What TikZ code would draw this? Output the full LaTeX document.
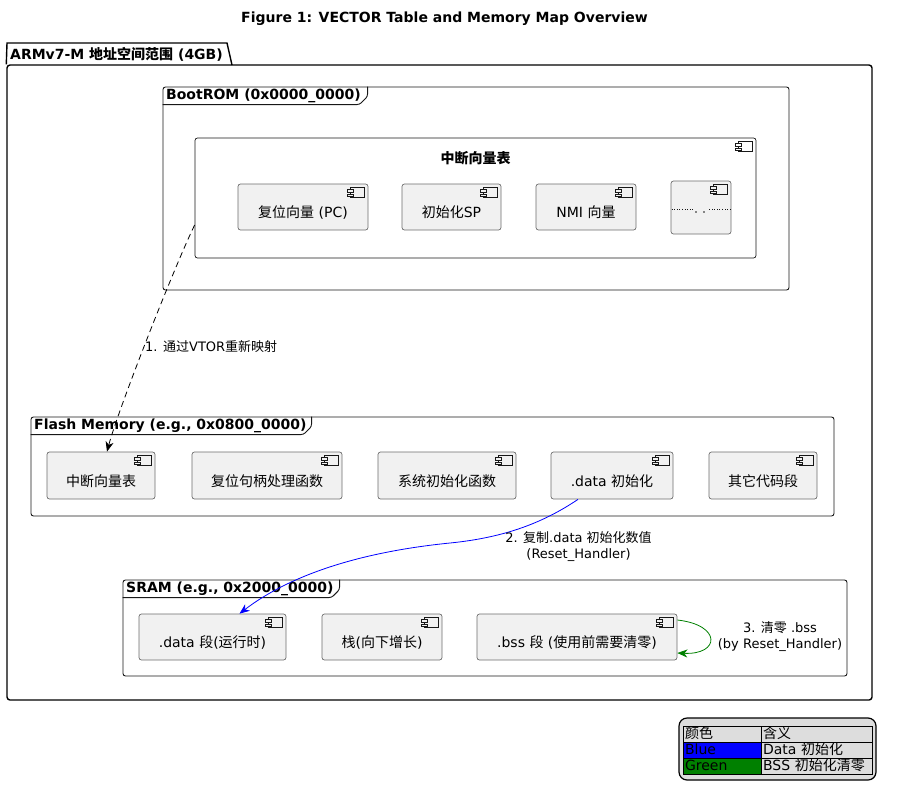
\documentclass[tikz,border=0pt]{standalone}
\usepackage{fontspec}
\setmainfont{DejaVu Sans}
\newfontfamily\cjk{Noto Sans CJK SC}
\newcommand\zh[1]{{\cjk #1}}
\usetikzlibrary{arrows.meta,calc}
\definecolor{compfill}{HTML}{F1F1F1}
\definecolor{lgfill}{HTML}{DDDDDD}
\definecolor{lblue}{HTML}{0000FF}
\definecolor{lgreen}{HTML}{008000}
\definecolor{bord}{HTML}{181818}
\definecolor{cbord}{HTML}{6E6E6E}
\newcommand\cmpicon[2][compfill]{%
  \draw[icon,fill=#1] ($(#2.north east)+(-18,4)$) rectangle ++(14,10);
  \draw[icon,fill=#1] ($(#2.north east)+(-21,6)$) rectangle ++(6,2.5);
  \draw[icon,fill=#1] ($(#2.north east)+(-21,10.5)$) rectangle ++(6,2.5);
}
\begin{document}
\begin{tikzpicture}[x=1pt,y=-1pt,
  comp/.style={draw=cbord, fill=compfill, line width=0.7pt, rounded corners=2.5pt,
    minimum height=46pt, inner sep=0pt, text height=22pt, text depth=1pt,
    font=\fontsize{14}{16}\selectfont},
  frame/.style={draw=bord, line width=0.9pt, rounded corners=2.5pt, inner sep=0pt},
  ftitle/.style={font=\bfseries\fontsize{14}{16}\selectfont, anchor=west, inner sep=0pt},
  elabel/.style={font=\fontsize{13}{16}\selectfont, align=center, inner sep=0pt},
  icon/.style={draw=bord, line width=0.5pt},
  arr/.style={-{Stealth[length=10pt,width=8pt,inset=3pt]}, line width=0.8pt},
  cell/.style={draw=black, line width=0.8pt, minimum height=16pt, inner xsep=2pt,
    inner ysep=0pt, text height=11pt, text depth=3pt, align=left,
    font=\fontsize{14}{16}\selectfont}
]
\fill[white] (0,0) rectangle (901,800);
\useasboundingbox (0,0) rectangle (901,800);

% title
\node[font=\bfseries\fontsize{14}{16}\selectfont, inner sep=0pt] (title) at (444.5,18.5)
  {Figure 1: VECTOR Table and Memory Map Overview};

% outer package
\node[draw=black, line width=1.4pt, rounded corners=3pt, minimum width=865pt,
  minimum height=635pt, inner sep=0pt] (pkg) at (439.5,382.5) {};
\draw[line width=1.4pt] (pkg.north west) -- (7,43) -- (227,43) -- (232,65);
\node[ftitle] (pkgt) at (10,54) {ARMv7-M \zh{地址空间范围} (4GB)};

% BootROM frame
\node[frame, minimum width=626pt, minimum height=203pt] (bt) at (476,188.5) {};
\draw[frame] ($(bt.north west)+(0,18)$) -- ++(197,0) -- ++(8,-8) -- ++(0,-10);
\node[ftitle] (btt) at (166,96) {BootROM (0x0000\_0000)};

% vector table component
\node[comp, draw=bord, fill=white, minimum width=561pt, minimum height=120pt, text height=0pt, text depth=0pt] (vt) at (475.5,198) {};
\cmpicon[white]{vt}
\node[font=\bfseries\fontsize{14}{16}\selectfont, inner sep=0pt] (vtt) at (475.5,158) {\zh{中断向量表}};

\node[comp, minimum width=130pt] (rv) at (303,207) {\zh{复位向量} (PC)};
\cmpicon{rv}
\node[comp, minimum width=99pt] (sp) at (451.5,207) {\zh{初始化}SP};
\cmpicon{sp}
\node[comp, minimum width=100pt] (nmi) at (586,207) {NMI \zh{向量}};
\cmpicon{nmi}
\node[comp, minimum width=60pt, minimum height=53pt, text height=0pt, text depth=0pt] (ell) at (701,207.5) {};
\cmpicon{ell}
\draw[dotted, line width=0.6pt, bord] ($(ell.west)+(1,1.5)$) -- ++(21,0);
\draw[dotted, line width=0.6pt, bord] ($(ell.east)+(-1,1.5)$) -- ++(-22,0);
\fill[bord] ($(ell.center)+(-5,4.5)$) circle (0.9);
\fill[bord] ($(ell.center)+(3,4.5)$) circle (0.9);

% Flash frame
\node[frame, minimum width=803pt, minimum height=99pt] (fl) at (432.5,466.5) {};
\draw[frame] ($(fl.north west)+(0,18)$) -- ++(273,0) -- ++(8,-8) -- ++(0,-10);
\node[ftitle] (flt) at (34,426) {Flash Memory (e.g., 0x0800\_0000)};

\node[comp, minimum width=108pt, minimum height=47pt] (fvt) at (101,475.5) {\zh{中断向量表}};
\cmpicon{fvt}
\node[comp, minimum width=150pt, minimum height=47pt] (frh) at (267,475.5) {\zh{复位句柄处理函数}};
\cmpicon{frh}
\node[comp, minimum width=138pt, minimum height=47pt] (fsi) at (447,475.5) {\zh{系统初始化函数}};
\cmpicon{fsi}
\node[comp, minimum width=122pt, minimum height=47pt] (fdi) at (612,475.5) {.data \zh{初始化}};
\cmpicon{fdi}
\node[comp, minimum width=108pt, minimum height=47pt] (foc) at (763,475.5) {\zh{其它代码段}};
\cmpicon{foc}

% SRAM frame
\node[frame, minimum width=724pt, minimum height=96pt] (sr) at (485,628) {};
\draw[frame] ($(sr.north west)+(0,18)$) -- ++(209,0) -- ++(8,-8) -- ++(0,-10);
\node[ftitle] (srt) at (126,589) {SRAM (e.g., 0x2000\_0000)};

\node[comp, minimum width=147pt] (sdd) at (212.5,637) {.data \zh{段}(\zh{运行时})};
\cmpicon{sdd}
\node[comp, minimum width=120pt] (sst) at (382,637) {\zh{栈}(\zh{向下增长})};
\cmpicon{sst}
\node[comp, minimum width=200pt] (sbs) at (577,637) {.bss \zh{段} (\zh{使用前需要清零})};
\cmpicon{sbs}

% connectors
\draw[arr, dashed, dash pattern=on 6pt off 4pt, black]
  ($(vt.west)+(0,27)$) .. controls (175,265) and (118,410) .. ($(fvt.north)+(6,0)$);
\node[elabel, anchor=west] (l1) at (145,347) {1. \zh{通过}VTOR\zh{重新映射}};

\draw[arr, lblue]
  ($(fdi.south)+(-34,0)$) .. controls (540,525) and (500,538) .. (450,543)
  .. controls (360,552) and (290,575) .. ($(sdd.north)+(27,0)$);
\node[elabel] (l2) at (578.5,547) {2. \zh{复制}.data \zh{初始化数值}\\(Reset\_Handler)};

\draw[arr, lgreen]
  ($(sbs.east)+(0,-17)$) .. controls (722,625) and (720,655) .. ($(sbs.east)+(0,16)$);
\node[elabel] (l3) at (780,637) {3. \zh{清零} .bss\\(by Reset\_Handler)};

% legend
\node[draw=black, line width=1.2pt, fill=lgfill, rounded corners=8pt,
  minimum width=197pt, minimum height=62pt, inner sep=0pt] (lg) at (777.5,749) {};
\node[cell, text width=74pt] (c11) at (722,734) {\zh{颜色}};
\node[cell, text width=107pt] (c12) at (816.5,734) {\zh{含义}};
\node[cell, text width=74pt, fill=lblue] (c21) at (722,750) {Blue};
\node[cell, text width=107pt] (c22) at (816.5,750) {Data \zh{初始化}};
\node[cell, text width=74pt, fill=lgreen] (c31) at (722,766) {Green};
\node[cell, text width=107pt] (c32) at (816.5,766) {BSS \zh{初始化清零}};
\end{tikzpicture}
\end{document}
